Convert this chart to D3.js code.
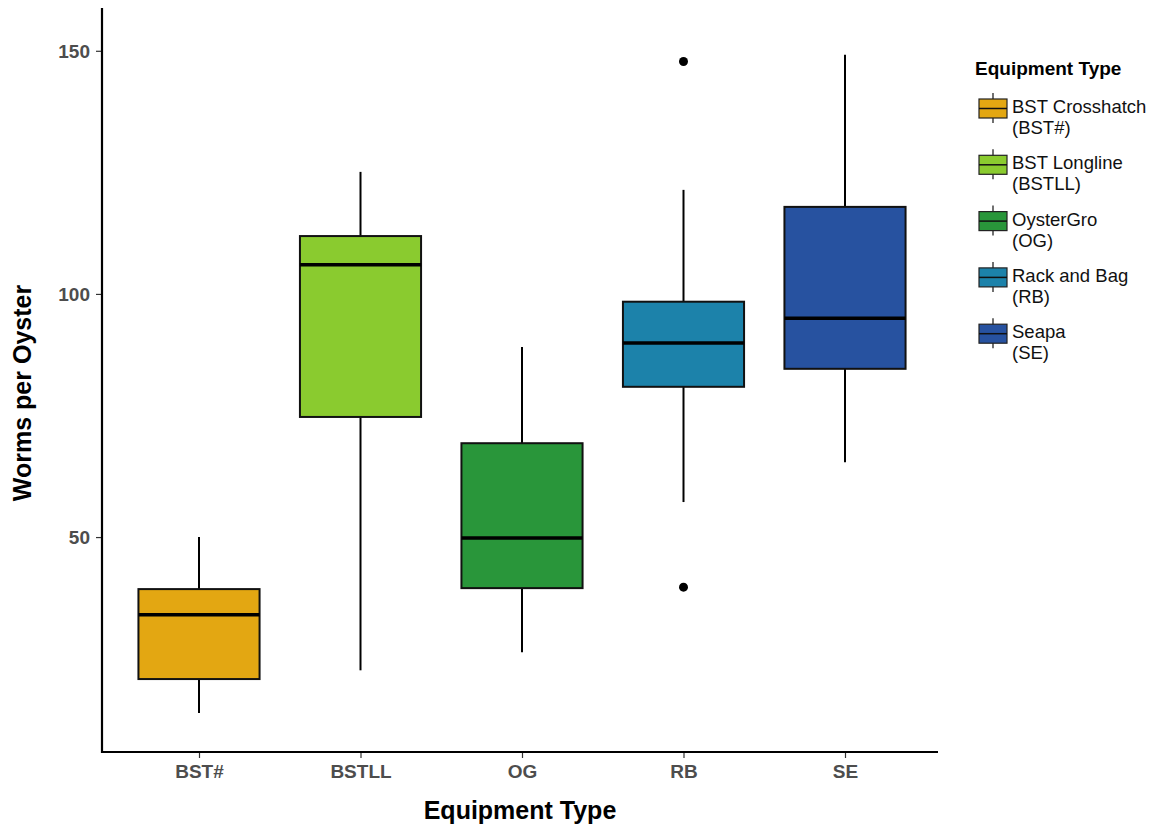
<!DOCTYPE html>
<html>
<head>
<meta charset="utf-8">
<script src="https://cdn.jsdelivr.net/npm/d3@7"></script>
<style>
  body { margin: 0; background: #fff; }
  text { font-family: "Liberation Sans", Arial, Helvetica, sans-serif; }
</style>
</head>
<body>
<svg id="chart" width="1174" height="825"></svg>
<script>
// ---- data ----
const categories = ["BST#", "BSTLL", "OG", "RB", "SE"];
const legendLabels = [["BST Crosshatch", "(BST#)"], ["BST Longline", "(BSTLL)"], ["OysterGro", "(OG)"], ["Rack and Bag", "(RB)"], ["Seapa", "(SE)"]];
const colors = ["#E3A712", "#8ACB2F", "#29963A", "#1C82AA", "#2752A0"];
const whiskerLow = [13.8, 22.6, 26.3, 57.2, 65.4];
const q1 = [20.8, 74.7, 39.5, 80.9, 84.6];
const median = [34.0, 106.0, 49.8, 89.9, 95.0];
const q3 = [39.3, 111.9, 69.3, 98.4, 117.9];
const whiskerHigh = [50.0, 125.1, 89.1, 121.4, 149.2];
const outliers = [[], [], [], [147.8, 39.7], []];
const yTicks = [50, 100, 150];

(function () {
const svg = d3.select("#chart");
const pLeft = 102, pRight = 938, pTop = 8, pBottom = 752;

const unit = 161.5;
const firstC = 199;
const x = d3.scalePoint().domain(categories)
  .range([firstC, firstC + unit * (categories.length - 1)]).padding(0);
const boxW = 0.75 * unit;

const y = d3.scaleLinear().domain([5.8, 158.8]).range([pBottom, pTop]);

const data = categories.map((c, i) => ({
  c, i, lo: whiskerLow[i], q1: q1[i], med: median[i], q3: q3[i], hi: whiskerHigh[i], out: outliers[i], color: colors[i]
}));

const g = svg.append("g");
// whiskers
g.selectAll(".wh").data(data).join("line")
  .attr("x1", d => x(d.c)).attr("x2", d => x(d.c))
  .attr("y1", d => y(d.hi)).attr("y2", d => y(d.q3))
  .attr("stroke", "#000").attr("stroke-width", 2);
g.selectAll(".wl").data(data).join("line")
  .attr("x1", d => x(d.c)).attr("x2", d => x(d.c))
  .attr("y1", d => y(d.q1)).attr("y2", d => y(d.lo))
  .attr("stroke", "#000").attr("stroke-width", 2);
// boxes
g.selectAll(".box").data(data).join("rect")
  .attr("x", d => x(d.c) - boxW / 2).attr("width", boxW)
  .attr("y", d => y(d.q3)).attr("height", d => y(d.q1) - y(d.q3))
  .attr("fill", d => d.color).attr("stroke", "#111").attr("stroke-width", 2);
// medians
g.selectAll(".med").data(data).join("line")
  .attr("x1", d => x(d.c) - boxW / 2).attr("x2", d => x(d.c) + boxW / 2)
  .attr("y1", d => y(d.med)).attr("y2", d => y(d.med))
  .attr("stroke", "#000").attr("stroke-width", 3.5);
// outliers
data.forEach(d => {
  g.selectAll(null).data(d.out).join("circle")
    .attr("cx", x(d.c)).attr("cy", v => y(v)).attr("r", 4.5).attr("fill", "#000");
});

// axes
const yAxis = d3.axisLeft(y).tickValues(yTicks).tickSize(6).tickPadding(6);
const ya = svg.append("g").attr("transform", `translate(${pLeft},0)`).call(yAxis);
ya.select(".domain").remove();
ya.selectAll(".tick line").attr("stroke", "#333").attr("stroke-width", 1.2);
ya.selectAll(".tick text").attr("fill", "#4d4d4d").style("font-size", "19px").style("font-weight", "bold").attr("dy", "0.35em");

const xAxis = d3.axisBottom(x).tickSize(6).tickPadding(6);
const xa = svg.append("g").attr("transform", `translate(0,${pBottom})`).call(xAxis);
xa.select(".domain").remove();
xa.selectAll(".tick line").attr("stroke", "#333").attr("stroke-width", 1.2);
xa.selectAll(".tick text").attr("fill", "#4d4d4d").style("font-size", "19px").style("font-weight", "bold").attr("dy", "0.75em");

// axis lines
svg.append("line").attr("x1", pLeft).attr("x2", pLeft).attr("y1", pTop).attr("y2", pBottom + 1)
  .attr("stroke", "#000").attr("stroke-width", 2.2);
svg.append("line").attr("x1", pLeft - 1).attr("x2", pRight).attr("y1", pBottom).attr("y2", pBottom)
  .attr("stroke", "#000").attr("stroke-width", 2.2);

// axis titles
svg.append("text").attr("x", 520).attr("y", 819)
  .attr("text-anchor", "middle").style("font-size", "25px").style("font-weight", "bold")
  .text("Equipment Type");
svg.append("text").attr("transform", `translate(31,393) rotate(-90)`)
  .attr("text-anchor", "middle").style("font-size", "25px").style("font-weight", "bold")
  .text("Worms per Oyster");

// legend
const lg = svg.append("g").attr("transform", "translate(975,0)");
lg.append("text").attr("x", 0).attr("y", 75).style("font-size", "19px").style("font-weight", "bold")
  .text("Equipment Type");
legendLabels.forEach((lab, i) => {
  const y0 = 93 + i * 56.3;
  const k = lg.append("g").attr("transform", `translate(3,${y0})`);
  k.append("line").attr("x1", 15).attr("x2", 15).attr("y1", 0).attr("y2", 30).attr("stroke", "#111").attr("stroke-width", 1.2);
  k.append("rect").attr("x", 1).attr("y", 6).attr("width", 28).attr("height", 19)
    .attr("fill", colors[i]).attr("stroke", "#222").attr("stroke-width", 1.2);
  k.append("line").attr("x1", 1).attr("x2", 29).attr("y1", 15.5).attr("y2", 15.5).attr("stroke", "#111").attr("stroke-width", 1.5);
  k.append("text").attr("x", 34).attr("y", 20).style("font-size", "18.5px").attr("fill", "#111").text(lab[0]);
  k.append("text").attr("x", 34).attr("y", 41).style("font-size", "18.5px").attr("fill", "#111").text(lab[1]);
});
})();
</script>
</body>
</html>
